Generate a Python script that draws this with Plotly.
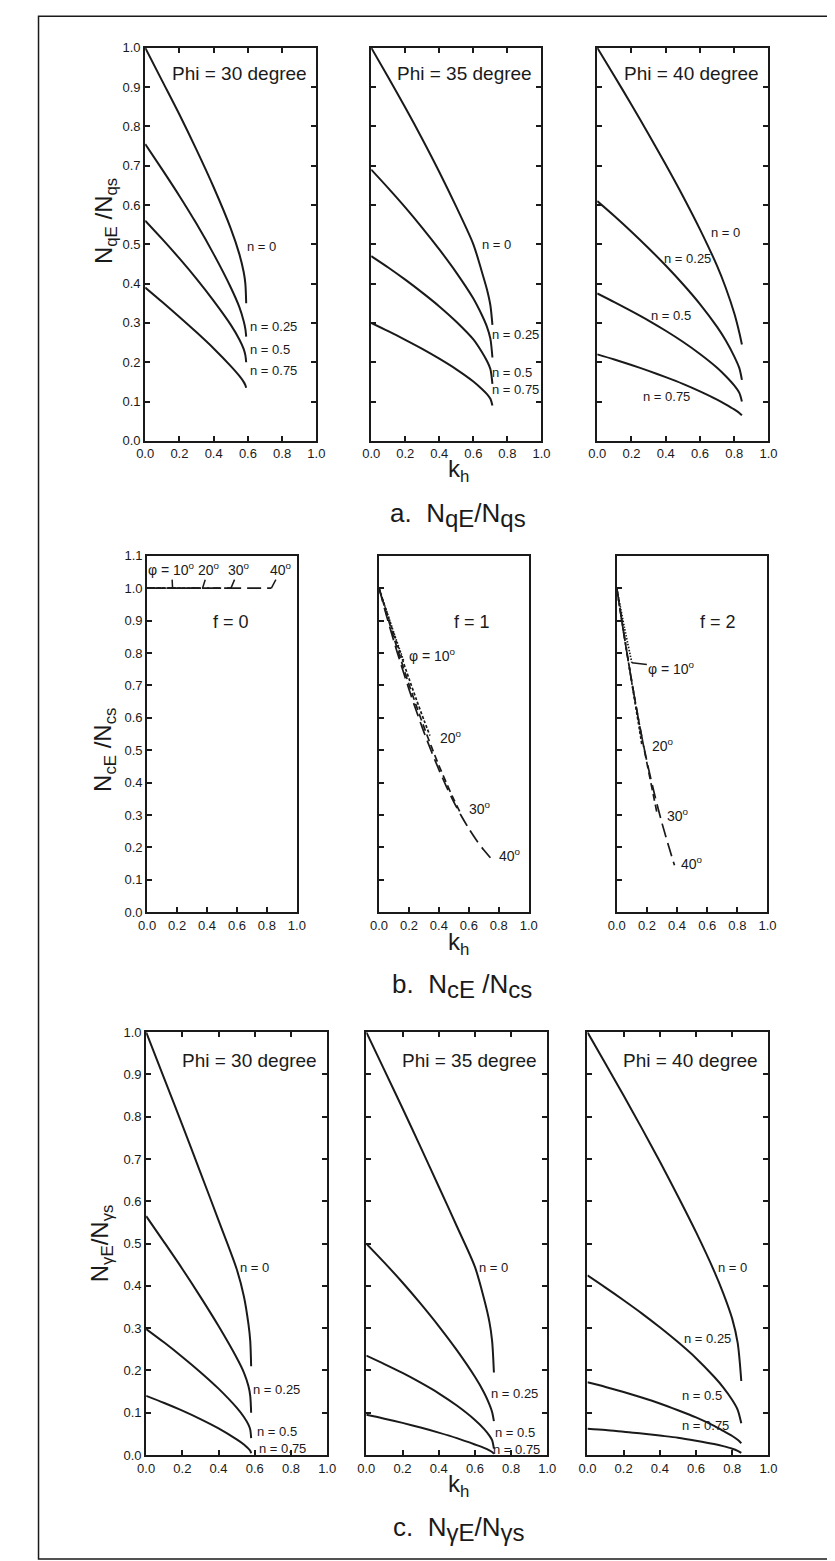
import plotly.graph_objects as go

W, H = 835, 1561
FONT = "Liberation Sans, Arial, Helvetica, sans-serif"
INK = "#1a1a1a"

# ---------------- data: a. NqE/Nqs ----------------
nq_labels = ["n = 0", "n = 0.25", "n = 0.5", "n = 0.75"]

qE30_kh = [0, 0.1, 0.2, 0.3, 0.4, 0.5, 0.55, 0.575, 0.585, 0.59]
qE30_n0 = [1.0, 0.915, 0.83, 0.74, 0.645, 0.54, 0.475, 0.43, 0.40, 0.35]
qE30_n25 = [0.755, 0.69, 0.623, 0.552, 0.475, 0.39, 0.34, 0.305, 0.285, 0.265]
qE30_n50 = [0.56, 0.513, 0.464, 0.412, 0.356, 0.295, 0.258, 0.234, 0.218, 0.20]
qE30_n75 = [0.39, 0.353, 0.315, 0.276, 0.235, 0.19, 0.165, 0.15, 0.142, 0.135]

qE35_kh = [0, 0.1, 0.2, 0.3, 0.4, 0.5, 0.6, 0.65, 0.68, 0.70, 0.712]
qE35_n0 = [1.0, 0.925, 0.848, 0.768, 0.684, 0.595, 0.50, 0.43, 0.385, 0.345, 0.295]
qE35_n25 = [0.69, 0.643, 0.594, 0.542, 0.487, 0.428, 0.362, 0.32, 0.29, 0.26, 0.212]
qE35_n50 = [0.47, 0.441, 0.41, 0.377, 0.342, 0.303, 0.258, 0.226, 0.203, 0.183, 0.145]
qE35_n75 = [0.30, 0.279, 0.257, 0.234, 0.209, 0.182, 0.151, 0.132, 0.119, 0.107, 0.09]

qE40_kh = [0, 0.1, 0.2, 0.3, 0.4, 0.5, 0.6, 0.7, 0.75, 0.8, 0.83, 0.845]
qE40_n0 = [1.0, 0.928, 0.855, 0.78, 0.703, 0.623, 0.538, 0.445, 0.39, 0.325, 0.275, 0.245]
qE40_n25 = [0.61, 0.572, 0.532, 0.49, 0.446, 0.399, 0.348, 0.29, 0.256, 0.215, 0.185, 0.155]
qE40_n50 = [0.375, 0.353, 0.33, 0.306, 0.28, 0.252, 0.221, 0.186, 0.165, 0.141, 0.122, 0.10]
qE40_n75 = [0.22, 0.207, 0.193, 0.178, 0.162, 0.145, 0.126, 0.105, 0.093, 0.08, 0.071, 0.065]

# ---------------- data: b. NcE/Ncs ----------------
cf0_kh_10 = [0, 0.17]
cf0_kh_20 = [0, 0.37]
cf0_kh_30 = [0, 0.56]
cf0_kh_40 = [0, 0.83]
cf0_val = [1.0, 1.0]

cf1_kh_10 = [0, 0.05, 0.1, 0.165]
cf1_10 = [1.0, 0.93, 0.861, 0.775]
cf1_kh_20 = [0, 0.05, 0.1, 0.15, 0.2, 0.25, 0.3, 0.34]
cf1_20 = [1.0, 0.928, 0.857, 0.788, 0.721, 0.656, 0.593, 0.545]
cf1_kh_30 = [0, 0.05, 0.1, 0.15, 0.2, 0.25, 0.3, 0.35, 0.4, 0.45, 0.5, 0.545]
cf1_30 = [1.0, 0.922, 0.846, 0.773, 0.703, 0.636, 0.572, 0.511, 0.453, 0.399, 0.348, 0.305]
cf1_kh_40 = [0, 0.05, 0.1, 0.15, 0.2, 0.25, 0.3, 0.35, 0.4, 0.45, 0.5, 0.55, 0.6, 0.65, 0.7, 0.75]
cf1_40 = [1.0, 0.915, 0.835, 0.76, 0.688, 0.62, 0.556, 0.496, 0.44, 0.388, 0.34, 0.297, 0.258, 0.223, 0.192, 0.165]

cf2_kh_10 = [0, 0.05, 0.1]
cf2_10 = [1.0, 0.88, 0.77]
cf2_kh_20 = [0, 0.05, 0.1, 0.15, 0.167]
cf2_20 = [1.0, 0.852, 0.707, 0.565, 0.515]
cf2_kh_30 = [0, 0.05, 0.1, 0.15, 0.2, 0.25, 0.265]
cf2_30 = [1.0, 0.85, 0.71, 0.58, 0.46, 0.345, 0.31]
cf2_kh_40 = [0, 0.05, 0.1, 0.15, 0.2, 0.25, 0.3, 0.35, 0.383]
cf2_40 = [1.0, 0.85, 0.71, 0.58, 0.465, 0.365, 0.275, 0.195, 0.145]

# ---------------- data: c. NgE/Ngs ----------------
gE30_kh = [0, 0.1, 0.2, 0.3, 0.4, 0.5, 0.54, 0.565, 0.575, 0.58]
gE30_n0 = [1.0, 0.89, 0.78, 0.668, 0.555, 0.44, 0.375, 0.31, 0.27, 0.21]
gE30_n25 = [0.565, 0.503, 0.44, 0.374, 0.305, 0.23, 0.195, 0.163, 0.14, 0.10]
gE30_n50 = [0.298, 0.266, 0.232, 0.196, 0.157, 0.112, 0.09, 0.072, 0.06, 0.04]
gE30_n75 = [0.14, 0.123, 0.105, 0.085, 0.063, 0.037, 0.025, 0.015, 0.01, 0.004]

gE35_kh = [0, 0.1, 0.2, 0.3, 0.4, 0.5, 0.6, 0.65, 0.68, 0.695, 0.705]
gE35_n0 = [1.0, 0.91, 0.82, 0.728, 0.635, 0.541, 0.445, 0.37, 0.315, 0.27, 0.195]
gE35_n25 = [0.50, 0.455, 0.408, 0.358, 0.305, 0.248, 0.185, 0.148, 0.12, 0.102, 0.08]
gE35_n50 = [0.235, 0.215, 0.194, 0.171, 0.146, 0.117, 0.083, 0.062, 0.046, 0.035, 0.015]
gE35_n75 = [0.095, 0.086, 0.076, 0.065, 0.053, 0.04, 0.025, 0.017, 0.011, 0.007, 0.003]

gE40_kh = [0, 0.1, 0.2, 0.3, 0.4, 0.5, 0.6, 0.7, 0.75, 0.8, 0.83, 0.85]
gE40_n0 = [1.0, 0.925, 0.85, 0.773, 0.694, 0.612, 0.527, 0.435, 0.383, 0.322, 0.265, 0.175]
gE40_n25 = [0.425, 0.396, 0.366, 0.335, 0.302, 0.267, 0.229, 0.185, 0.16, 0.13, 0.107, 0.075]
gE40_n50 = [0.172, 0.161, 0.149, 0.136, 0.122, 0.106, 0.089, 0.069, 0.057, 0.045, 0.036, 0.028]
gE40_n75 = [0.062, 0.059, 0.055, 0.051, 0.046, 0.041, 0.034, 0.026, 0.021, 0.015, 0.01, 0.005]

panel_titles = ["Phi = 30 degree", "Phi = 35 degree", "Phi = 40 degree"]
f_titles = ["f = 0", "f = 1", "f = 2"]
x_ticks = [0, 0.2, 0.4, 0.6, 0.8, 1.0]
y_ticks_ac = [0, 0.1, 0.2, 0.3, 0.4, 0.5, 0.6, 0.7, 0.8, 0.9, 1.0]
y_ticks_b = [0, 0.1, 0.2, 0.3, 0.4, 0.5, 0.6, 0.7, 0.8, 0.9, 1.0, 1.1]

# ---------------- layout geometry (pixels) ----------------
row_y = [(33, 430), (546, 906), (1027, 1454)]
col_x = [[(131, 306), (362, 536), (593, 768)],
         [(133, 286), (370, 523), (613, 767)],
         [(132, 317), (357, 542), (583, 768)]]


def px_x(p):
    return p / W


def px_y(p):
    return 1 - p / H


fig = go.Figure()
layout = {}
annotations = []


def ax_names(i):
    s = "" if i == 0 else str(i + 1)
    return "x" + s, "y" + s, "xaxis" + s, "yaxis" + s


for r in range(3):
    for c in range(3):
        i = r * 3 + c
        xr, yr, xa, ya = ax_names(i)
        x0, x1 = col_x[r][c]
        y0, y1 = row_y[r]
        mirror = True if r == 1 else "ticks"
        layout[xa] = dict(domain=[px_x(x0), px_x(x1)], range=[0, 1], anchor=yr,
                          tickvals=x_ticks, ticktext=["%.1f" % v for v in x_ticks],
                          ticks="inside", ticklen=5, tickwidth=1.5, tickcolor=INK,
                          showline=True, linewidth=2, linecolor=INK, mirror=mirror,
                          showgrid=False, zeroline=False,
                          tickfont=dict(size=13, family=FONT, color=INK))
        yt = y_ticks_b if r == 1 else y_ticks_ac
        layout[ya] = dict(domain=[px_y(y1), px_y(y0)], range=[0, yt[-1]], anchor=xr,
                          tickvals=yt, ticktext=["%.1f" % v for v in yt],
                          showticklabels=(c == 0),
                          ticks="inside", ticklen=5, tickwidth=1.5, tickcolor=INK,
                          showline=True, linewidth=2, linecolor=INK, mirror=mirror,
                          showgrid=False, zeroline=False,
                          tickfont=dict(size=13, family=FONT, color=INK))


def add_curve(i, xs, ys, dash="solid", width=2.0):
    xr, yr, _, _ = ax_names(i)
    fig.add_trace(go.Scatter(x=xs, y=ys, mode="lines", xaxis=xr, yaxis=yr,
                             line=dict(color=INK, width=width, dash=dash,
                                       shape="spline", smoothing=0.8),
                             showlegend=False, hoverinfo="skip"))


def add_text(i, x, y, text, size=13, xanchor="left", **kw):
    xr, yr, _, _ = ax_names(i)
    annotations.append(dict(x=x, y=y, xref=xr, yref=yr, text=text, showarrow=False,
                            xanchor=xanchor, yanchor="middle",
                            font=dict(size=size, family=FONT, color=INK), **kw))


# ---- row a ----
rows_a = [(qE30_kh, [qE30_n0, qE30_n25, qE30_n50, qE30_n75]),
          (qE35_kh, [qE35_n0, qE35_n25, qE35_n50, qE35_n75]),
          (qE40_kh, [qE40_n0, qE40_n25, qE40_n50, qE40_n75])]
for c, (kh, curves) in enumerate(rows_a):
    for ys in curves:
        add_curve(c, kh, ys)
    add_text(c, 0.955, 0.935, panel_titles[c], size=19, xanchor="right")
a_label_pos = [[(0.585, 0.495), (0.60, 0.29), (0.60, 0.232), (0.60, 0.18)],
               [(0.637, 0.50), (0.695, 0.27), (0.70, 0.175), (0.695, 0.13)],
               [(0.65, 0.53), (0.38, 0.465), (0.305, 0.32), (0.255, 0.113)]]
for c in range(3):
    for k, (x, y) in enumerate(a_label_pos[c]):
        add_text(c, x, y, nq_labels[k])

# ---- row b ----
dashes = ["1.5px,1.5px", "3px,2px", "7px,4px", "14px,6px"]
f0 = [(cf0_kh_10, cf0_val), (cf0_kh_20, cf0_val), (cf0_kh_30, cf0_val), (cf0_kh_40, cf0_val)]
f1 = [(cf1_kh_10, cf1_10), (cf1_kh_20, cf1_20), (cf1_kh_30, cf1_30), (cf1_kh_40, cf1_40)]
f2 = [(cf2_kh_10, cf2_10), (cf2_kh_20, cf2_20), (cf2_kh_30, cf2_30), (cf2_kh_40, cf2_40)]
for c, group in enumerate([f0, f1, f2]):
    for k, (kh, ys) in enumerate(group):
        add_curve(3 + c, kh, ys, dash=dashes[k], width=1.7)
f_pos = [0.56, 0.62, 0.67]
for c in range(3):
    add_text(3 + c, f_pos[c], 0.895, f_titles[c], size=18, xanchor="center")

deg = ["\u03c6 = 10<sup>o</sup>", "20<sup>o</sup>", "30<sup>o</sup>", "40<sup>o</sup>"]
# f = 0 labels with leader lines to the curve ends
f0_off = [(-1, -19), (6, -19), (8, -19), (10, -19)]
for k, (kh, ys) in enumerate(f0):
    xr, yr, _, _ = ax_names(3)
    annotations.append(dict(x=kh[-1], y=ys[-1], xref=xr, yref=yr, text=deg[k],
                            showarrow=True, arrowhead=0, arrowwidth=1.5, arrowcolor=INK,
                            ax=f0_off[k][0], ay=f0_off[k][1], standoff=0,
                            font=dict(size=14, family=FONT, color=INK)))
f1_pos = [(0.186, 0.794), (0.393, 0.541), (0.59, 0.323), (0.786, 0.176)]
for k, (x, y) in enumerate(f1_pos):
    add_text(4, x, y, deg[k], size=14)
# f = 2: first label with a leader, others plain
xr5, yr5, _, _ = ax_names(5)
annotations.append(dict(x=cf2_kh_10[-1], y=cf2_10[-1], xref=xr5, yref=yr5, text=deg[0],
                        showarrow=True, arrowhead=0, arrowwidth=1.5, arrowcolor=INK,
                        ax=40, ay=5, standoff=0,
                        font=dict(size=14, family=FONT, color=INK)))
f2_pos = [(0.22, 0.515), (0.318, 0.30), (0.416, 0.151)]
for k, (x, y) in enumerate(f2_pos):
    add_text(5, x, y, deg[k + 1], size=14)

# ---- row c ----
rows_c = [(gE30_kh, [gE30_n0, gE30_n25, gE30_n50, gE30_n75]),
          (gE35_kh, [gE35_n0, gE35_n25, gE35_n50, gE35_n75]),
          (gE40_kh, [gE40_n0, gE40_n25, gE40_n50, gE40_n75])]
for c, (kh, curves) in enumerate(rows_c):
    for ys in curves:
        add_curve(6 + c, kh, ys)
    add_text(6 + c, 0.955, 0.933, panel_titles[c], size=19, xanchor="right")
c_label_pos = [[(0.506, 0.443), (0.58, 0.155), (0.60, 0.055), (0.61, 0.016)],
               [(0.61, 0.443), (0.68, 0.145), (0.70, 0.054), (0.69, 0.013)],
               [(0.71, 0.443), (0.52, 0.275), (0.51, 0.14), (0.51, 0.07)]]
for c in range(3):
    for k, (x, y) in enumerate(c_label_pos[c]):
        add_text(6 + c, x, y, nq_labels[k])


# ---- axis titles, k_h labels, captions ----
def paper_text(xp, yp, text, size, angle=0):
    annotations.append(dict(x=px_x(xp), y=px_y(yp), xref="paper", yref="paper",
                            text=text, showarrow=False, textangle=angle,
                            xanchor="center", yanchor="middle",
                            font=dict(size=size, family=FONT, color=INK)))


def big_sub(s, px):
    return "<sub><span style='font-size:%dpx'>%s</span></sub>" % (px, s)


paper_text(90, 208, "N<sub>qE</sub> /N<sub>qs</sub>", 24, -90)
paper_text(90, 742, "N<sub>cE</sub> /N<sub>cs</sub>", 24, -90)
paper_text(86, 1240, "N<sub>\u03b3E</sub>/N<sub>\u03b3s</sub>", 24, -90)
for yk in [460, 938, 1485]:
    paper_text(451, yk, "k<sub>h</sub>", 24)
paper_text(451, 505, "a.  N" + big_sub("qE", 24) + "/N" + big_sub("qs", 24), 26)
paper_text(455, 980, "b.  N" + big_sub("cE", 24) + " /N" + big_sub("cs", 24), 26)
paper_text(451, 1529, "c.  N" + big_sub("\u03b3E", 24) + "/N" + big_sub("\u03b3s", 24), 26)

layout["shapes"] = [dict(type="rect", xref="paper", yref="paper",
                         x0=px_x(22), x1=px_x(832), y0=px_y(1559), y1=px_y(1.2),
                         line=dict(color=INK, width=1.5))]
fig.update_layout(width=W, height=H, margin=dict(l=0, r=0, t=0, b=0),
                  paper_bgcolor="white", plot_bgcolor="white",
                  showlegend=False, annotations=annotations,
                  font=dict(family=FONT, color=INK), **layout)
fig.write_html("out.html")
